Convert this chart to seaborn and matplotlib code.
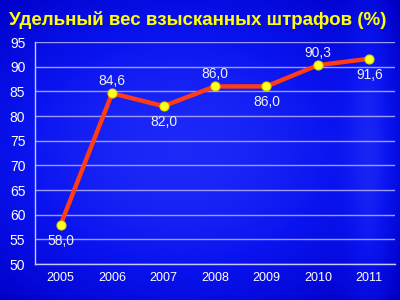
import numpy as np
import pandas as pd
import seaborn as sns
import matplotlib
matplotlib.use("Agg")
import matplotlib.pyplot as plt
from matplotlib.colors import LinearSegmentedColormap

years = ["2005", "2006", "2007", "2008", "2009", "2010", "2011"]
values = [58.0, 84.6, 82.0, 86.0, 86.0, 90.3, 91.6]
labels = ["58,0", "84,6", "82,0", "86,0", "86,0", "90,3", "91,6"]
label_pos = ["below", "above", "below", "above", "below", "above", "below"]
title = "Удельный вес взысканных штрафов (%)"

sns.set_style("white")
plt.rcParams['font.family'] = ['Liberation Sans', 'DejaVu Sans']

fig = plt.figure(figsize=(4, 3), dpi=100)
# background gradient
bg = fig.add_axes([0, 0, 1, 1], zorder=-10)
xx = np.linspace(0, 1, 400)
yy = np.linspace(0, 1, 300)
X, Y = np.meshgrid(xx, yy)
val = 1 - 0.6 * ((X - 0.45) ** 2 + (Y - 0.5) ** 2)
val = val + 0.12 * np.exp(-((X - 0.93) / 0.06) ** 2)
cmap = LinearSegmentedColormap.from_list("b", ["#00008a", "#0000c8", "#0a14f0", "#3040ff"])
bg.imshow(val, cmap=cmap, aspect="auto", extent=[0, 1, 0, 1], vmin=0.55, vmax=1.1)
bg.set_axis_off()

ax = fig.add_axes([0.0875, 0.12, 0.9, 0.74])
ax.set_facecolor("none")
df = pd.DataFrame({"x": np.arange(len(years)), "y": values})
sns.lineplot(data=df, x="x", y="y", ax=ax, color="#ff3c14", linewidth=3.2,
             marker="o", markersize=6.5, markerfacecolor="#ffff20",
             markeredgecolor="#d8d800", markeredgewidth=0.8, zorder=5)

ax.set_xlim(-0.5, len(years) - 0.5)
ax.set_ylim(50, 95)
ax.set_yticks(np.arange(50, 96, 5))
ax.set_xticks(np.arange(len(years)))
ax.set_xticklabels(years)
ax.set_xticks(np.arange(-0.5, len(years)), minor=True)
ax.tick_params(axis="x", which="major", length=0, colors="white", labelsize=9, pad=6)
ax.tick_params(axis="x", which="minor", length=4, color="#c8c8ff", width=1, direction="out")
ax.tick_params(axis="y", length=3, color="#c8c8ff", colors="white", labelsize=10, pad=4)
ax.yaxis.grid(True, color="#9a9aff", linewidth=1)
ax.set_axisbelow(True)
for s in ["top", "right"]:
    ax.spines[s].set_visible(False)
for s in ["left", "bottom"]:
    ax.spines[s].set_color("#c8c8ff")
    ax.spines[s].set_linewidth(1)
ax.set_xlabel("")
ax.set_ylabel("")

for i, (v, lab, pos) in enumerate(zip(values, labels, label_pos)):
    off = 9 if pos == "above" else -11.5
    ax.annotate(lab, (i, v), xytext=(0, off), textcoords="offset points",
                ha="center", va="center",
                color="#f0f0f0", fontsize=10)

fig.text(0.495, 0.933, title, ha="center", va="center", color="#ffff00",
         fontsize=13.5, fontweight="bold")

fig.savefig("out.png", dpi=100)
